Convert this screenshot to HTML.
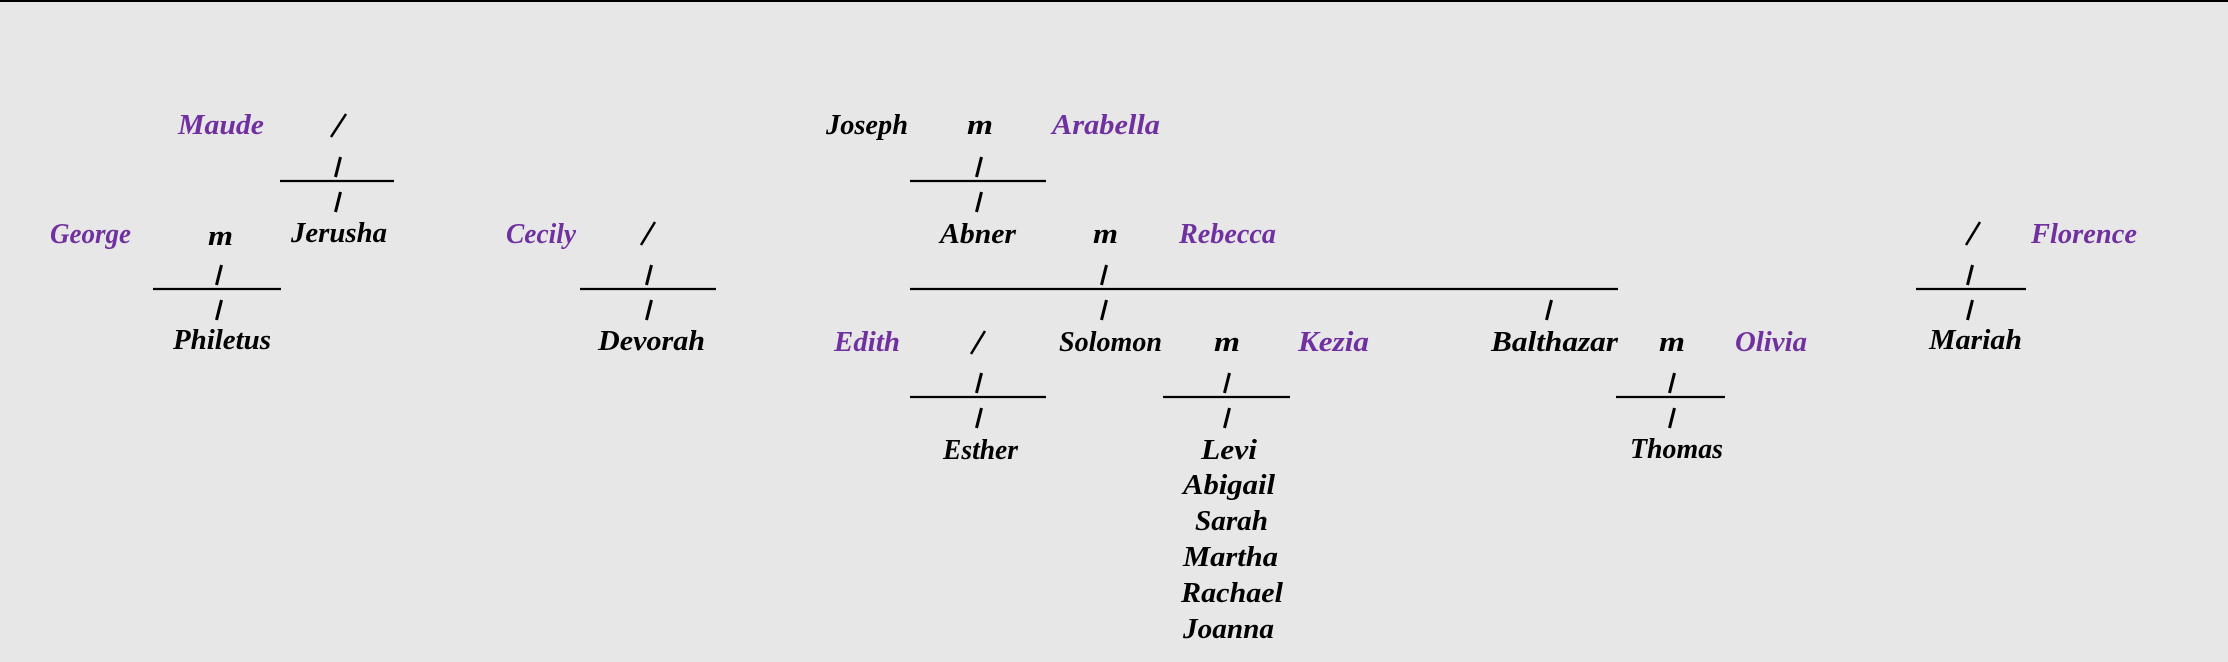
<!DOCTYPE html>
<html>
<head>
<meta charset="utf-8">
<style>
html,body{margin:0;padding:0;background:#e7e7e7;}
body{width:2228px;height:662px;overflow:hidden;}
svg{display:block;}
text{font-family:"Liberation Serif",serif;font-style:italic;font-weight:bold;font-size:28px;}
.p{fill:#7030a0;}
.k{fill:#000;}
</style>
</head>
<body>
<svg width="2228" height="662" viewBox="0 0 2228 662" xmlns="http://www.w3.org/2000/svg">
<rect x="0" y="0" width="2228" height="662" fill="#e7e7e7"/>
<rect x="0" y="0" width="2228" height="2" fill="#000"/>

<!-- horizontal rules -->
<g stroke="#000" stroke-width="2.2">
  <line x1="280" y1="181" x2="394" y2="181"/>
  <line x1="910" y1="181" x2="1046" y2="181"/>
  <line x1="153" y1="289" x2="281" y2="289"/>
  <line x1="580" y1="289" x2="716" y2="289"/>
  <line x1="910" y1="289" x2="1618" y2="289"/>
  <line x1="1916" y1="289" x2="2026" y2="289"/>
  <line x1="910" y1="397" x2="1046" y2="397"/>
  <line x1="1163" y1="397" x2="1290" y2="397"/>
  <line x1="1616" y1="397" x2="1725" y2="397"/>
</g>

<!-- pipes -->
<g stroke="#000" stroke-width="3" stroke-linecap="butt">
  <line x1="340.5" y1="157" x2="335.5" y2="177"/>
  <line x1="340.5" y1="192" x2="335.5" y2="212"/>
  <line x1="981.5" y1="157" x2="976.5" y2="177"/>
  <line x1="981.5" y1="192" x2="976.5" y2="212"/>
  <line x1="221.5" y1="265" x2="216.5" y2="285"/>
  <line x1="651.5" y1="265" x2="646.5" y2="285"/>
  <line x1="1106.5" y1="265" x2="1101.5" y2="285"/>
  <line x1="1972.5" y1="265" x2="1967.5" y2="285"/>
  <line x1="221.5" y1="300" x2="216.5" y2="320"/>
  <line x1="651.5" y1="300" x2="646.5" y2="320"/>
  <line x1="1106.5" y1="300" x2="1101.5" y2="320"/>
  <line x1="1551.5" y1="300" x2="1546.5" y2="320"/>
  <line x1="1972.5" y1="300" x2="1967.5" y2="320"/>
  <line x1="981.5" y1="373" x2="976.5" y2="393"/>
  <line x1="1229.5" y1="373" x2="1224.5" y2="393"/>
  <line x1="1674.5" y1="373" x2="1669.5" y2="393"/>
  <line x1="981.5" y1="408" x2="976.5" y2="428"/>
  <line x1="1229.5" y1="408" x2="1224.5" y2="428"/>
  <line x1="1674.5" y1="408" x2="1669.5" y2="428"/>
</g>

<!-- slashes -->
<g stroke="#000" stroke-width="2.5">
  <line x1="346" y1="114" x2="331" y2="137"/>
  <line x1="655" y1="222" x2="641" y2="245"/>
  <line x1="1980" y1="222" x2="1966" y2="245"/>
  <line x1="985" y1="331" x2="971" y2="354"/>
</g>

<!-- Row 0 -->
<text class="p" x="178" y="134" textLength="86" lengthAdjust="spacingAndGlyphs">Maude</text>
<text class="k" x="826" y="134" textLength="82" lengthAdjust="spacingAndGlyphs">Joseph</text>
<text class="k" x="967" y="134" textLength="26" lengthAdjust="spacingAndGlyphs">m</text>
<text class="p" x="1052" y="134" textLength="108" lengthAdjust="spacingAndGlyphs">Arabella</text>

<!-- Row 3 -->
<text class="p" x="50" y="243" textLength="81" lengthAdjust="spacingAndGlyphs">George</text>
<text class="k" x="208" y="245" textLength="25" lengthAdjust="spacingAndGlyphs">m</text>
<text class="k" x="291" y="242" textLength="96" lengthAdjust="spacingAndGlyphs">Jerusha</text>
<text class="p" x="506" y="243" textLength="70" lengthAdjust="spacingAndGlyphs">Cecily</text>
<text class="k" x="940" y="243" textLength="76" lengthAdjust="spacingAndGlyphs">Abner</text>
<text class="k" x="1093" y="243" textLength="25" lengthAdjust="spacingAndGlyphs">m</text>
<text class="p" x="1179" y="243" textLength="97" lengthAdjust="spacingAndGlyphs">Rebecca</text>
<text class="p" x="2031" y="243" textLength="106" lengthAdjust="spacingAndGlyphs">Florence</text>

<!-- Row 6 -->
<text class="k" x="173" y="349" textLength="98" lengthAdjust="spacingAndGlyphs">Philetus</text>
<text class="k" x="598" y="350" textLength="107" lengthAdjust="spacingAndGlyphs">Devorah</text>
<text class="p" x="834" y="351" textLength="66" lengthAdjust="spacingAndGlyphs">Edith</text>
<text class="k" x="1059" y="351" textLength="103" lengthAdjust="spacingAndGlyphs">Solomon</text>
<text class="k" x="1214" y="351" textLength="26" lengthAdjust="spacingAndGlyphs">m</text>
<text class="p" x="1298" y="351" textLength="71" lengthAdjust="spacingAndGlyphs">Kezia</text>
<text class="k" x="1491" y="351" textLength="127" lengthAdjust="spacingAndGlyphs">Balthazar</text>
<text class="k" x="1659" y="351" textLength="26" lengthAdjust="spacingAndGlyphs">m</text>
<text class="p" x="1735" y="351" textLength="72" lengthAdjust="spacingAndGlyphs">Olivia</text>
<text class="k" x="1929" y="349" textLength="93" lengthAdjust="spacingAndGlyphs">Mariah</text>

<!-- Row 9+ -->
<text class="k" x="943" y="459" textLength="75" lengthAdjust="spacingAndGlyphs">Esther</text>
<text class="k" x="1201" y="459" textLength="56" lengthAdjust="spacingAndGlyphs">Levi</text>
<text class="k" x="1630" y="458" textLength="93" lengthAdjust="spacingAndGlyphs">Thomas</text>
<text class="k" x="1183" y="494" textLength="92" lengthAdjust="spacingAndGlyphs">Abigail</text>
<text class="k" x="1195" y="530" textLength="73" lengthAdjust="spacingAndGlyphs">Sarah</text>
<text class="k" x="1183" y="566" textLength="95" lengthAdjust="spacingAndGlyphs">Martha</text>
<text class="k" x="1181" y="602" textLength="102" lengthAdjust="spacingAndGlyphs">Rachael</text>
<text class="k" x="1183" y="638" textLength="91" lengthAdjust="spacingAndGlyphs">Joanna</text>
</svg>
</body>
</html>
